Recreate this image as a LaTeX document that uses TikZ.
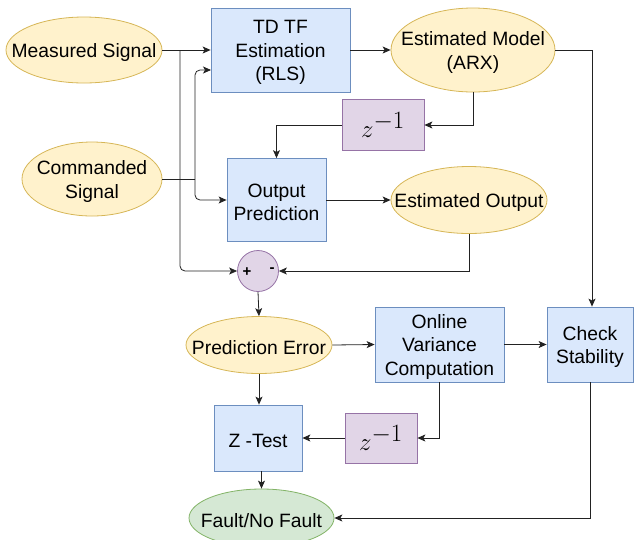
\documentclass[tikz,border=0pt]{standalone}
\usepackage{fontspec}
\setmainfont{Liberation Sans}
\usetikzlibrary{shapes.geometric,arrows.meta}
\definecolor{yfill}{HTML}{FFF2CC}\definecolor{ydraw}{HTML}{D6B656}
\definecolor{bfill}{HTML}{DAE8FC}\definecolor{bdraw}{HTML}{6C8EBF}
\definecolor{pfill}{HTML}{E1D5E7}\definecolor{pdraw}{HTML}{9673A6}
\definecolor{gfill}{HTML}{D5E8D4}\definecolor{gdraw}{HTML}{82B366}
\definecolor{edgec}{HTML}{222222}
\tikzset{
  txt/.style={inner sep=0pt, align=center, font=\fontsize{19.3}{23.5}\selectfont, yshift=-2.5pt},
  base/.style={inner sep=0pt, line width=0.8pt},
  yell/.style={base, ellipse, fill=yfill, draw=ydraw},
  grn/.style={base, ellipse, fill=gfill, draw=gdraw},
  blue/.style={base, rectangle, fill=bfill, draw=bdraw},
  zbox/.style={base, rectangle, fill=pfill, draw=pdraw, font=\fontsize{40}{40}\selectfont},
  sumc/.style={base, circle, fill=pfill, draw=pdraw},
  sgn/.style={font=\fontsize{15}{15}\selectfont\bfseries, inner sep=0pt},
  conn/.style={draw=edgec, line width=0.8pt, -{Stealth[length=8pt,width=7pt,inset=2pt]}},
  plain/.style={draw=edgec, line width=0.8pt},
}
\begin{document}
\begin{tikzpicture}[x=1pt,y=-1pt]
\useasboundingbox (0,0) rectangle (634,539);
\node[yell, minimum width=156pt, minimum height=66pt, label={[txt]center:Measured Signal}] (ms) at (84,50) {};
\node[yell, minimum width=140pt, minimum height=74pt, label={[txt]center:{Commanded\\Signal}}] (cs) at (92,179) {};
\node[blue, minimum width=139pt, minimum height=84pt, label={[txt]center:{TD TF\\Estimation\\(RLS)}}] (td) at (280.5,50) {};
\node[yell, minimum width=164pt, minimum height=84pt, label={[txt]center:{Estimated Model\\(ARX)}}] (em) at (473,50) {};
\node[zbox, minimum width=82pt, minimum height=51pt] (z1) at (383,125) {$z^{-1}$};
\node[blue, minimum width=99pt, minimum height=83pt, label={[txt]center:{Output\\Prediction}}] (op) at (276.5,200) {};
\node[yell, minimum width=156pt, minimum height=67pt, label={[txt]center:Estimated Output}] (eo) at (469,200) {};
\node[sumc, minimum size=41pt] (sum) at (258,271) {};
\node[sgn] (plus) at (247,272) {+};
\node[sgn] (minus) at (272,270) {-};
\node[yell, minimum width=146pt, minimum height=57pt, label={[txt]center:Prediction Error}] (pe) at (259,345) {};
\node[blue, minimum width=129pt, minimum height=75pt, label={[txt]center:{Online\\Variance\\Computation}}] (ov) at (439.5,344.5) {};
\node[blue, minimum width=86pt, minimum height=75pt, label={[txt]center:{Check\\Stability}}] (ck) at (590,344.5) {};
\node[blue, minimum width=88pt, minimum height=66pt, label={[txt]center:Z -Test}] (zt) at (258,438) {};
\node[zbox, minimum width=72pt, minimum height=50pt] (z2) at (381,438) {$z^{-1}$};
\node[grn, minimum width=145pt, minimum height=58pt, label={[txt]center:Fault/No Fault}] (ff) at (261.5,518) {};

\coordinate (j1) at (180,50);
\coordinate (j2) at (195,179);
\coordinate (tdin) at (211,70);
\coordinate (emr) at (592,50);

\draw[conn] (ms.east) -- (td.west);
\draw[conn, rounded corners=5pt] (j1) |- (sum.west);
\draw[plain] (cs.east) -- (j2);
\draw[conn, rounded corners=5pt] (j2) |- (tdin);
\draw[conn, rounded corners=5pt] (j2) |- (op.west);
\draw[conn] (td.east) -- (em.west);
\draw[conn] (em.south) |- (z1.east);
\draw[conn] (z1.west) -| (op.north);
\draw[conn] (op.east) -- (eo.west);
\draw[conn] (eo.south) |- (sum.east);
\draw[conn] (em.east) -- (emr) -- (emr |- ck.north);
\draw[conn] (sum.south) -- (pe.north);
\draw[conn] (pe.east) -- (ov.west);
\draw[conn] (ov.east) -- (ck.west);
\draw[conn] (ov.south) |- (z2.east);
\draw[conn] (z2.west) -- (zt.east);
\draw[conn] (pe.south) -- (pe.south |- zt.north);
\draw[conn] (ff.north |- zt.south) -- (ff.north);
\draw[conn] (ck.south) |- (ff.east);
\end{tikzpicture}
\end{document}
